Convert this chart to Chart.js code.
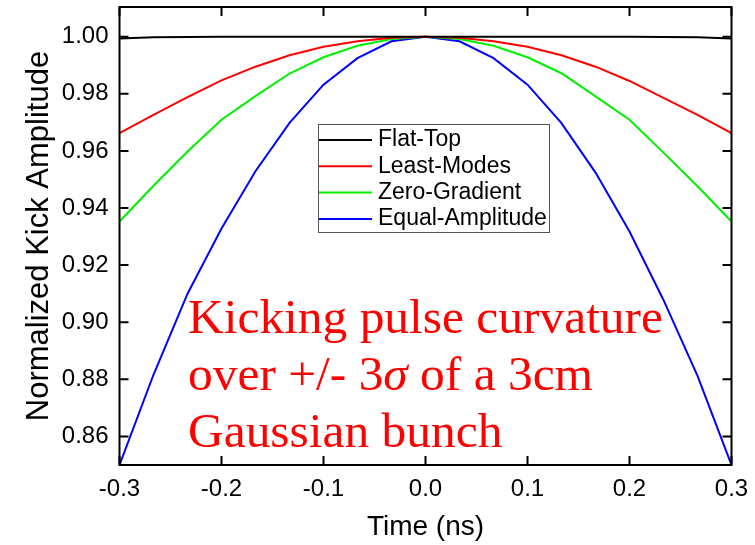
<!DOCTYPE html>
<html>
<head>
<meta charset="utf-8">
<title>Kick amplitude</title>
<script src="https://cdn.jsdelivr.net/npm/chart.js@4.4.1/dist/chart.umd.min.js"></script>
<style>
  body { margin: 0; background: #fff; }
  #wrap { width: 755px; height: 545px; }
</style>
</head>
<body>
<div id="wrap"><canvas id="kick-chart" width="755" height="545"></canvas></div>
<script>
// time points (ns)
const times = [-0.3, -0.2667, -0.2333, -0.2, -0.1667, -0.1333, -0.1, -0.0667, -0.0333, 0,
               0.0333, 0.0667, 0.1, 0.1333, 0.1667, 0.2, 0.2333, 0.2667, 0.3];
// normalized kick amplitude
const flat_top = [0.9994, 0.9998, 0.9999, 1.0, 1.0, 1.0, 1.0, 1.0, 1.0, 1.0,
                  1.0, 1.0, 1.0, 1.0, 1.0, 1.0, 0.9999, 0.9998, 0.9994];
const least_modes = [0.9662, 0.9726, 0.9788, 0.9847, 0.9895, 0.9935, 0.9965, 0.9984, 0.9996, 1.0,
                     0.9996, 0.9984, 0.9965, 0.9935, 0.9895, 0.9845, 0.9786, 0.9726, 0.9662];
const zero_gradient = [0.9353, 0.9478, 0.9598, 0.9709, 0.9792, 0.9871, 0.9928, 0.9968, 0.9992, 1.0,
                       0.9992, 0.9968, 0.9928, 0.9872, 0.9791, 0.9709, 0.9594, 0.9476, 0.9353];
const equal_amplitude = [0.8500, 0.8816, 0.9100, 0.9328, 0.9529, 0.9698, 0.9832, 0.9925, 0.9984, 1.0,
                         0.9984, 0.9925, 0.9832, 0.9697, 0.9524, 0.9318, 0.9078, 0.8812, 0.8500];
// axis ticks
const x_ticks = [-0.3, -0.2, -0.1, 0.0, 0.1, 0.2, 0.3];
const y_ticks = [0.86, 0.88, 0.90, 0.92, 0.94, 0.96, 0.98, 1.00];
// legend names and colours
const names = ['Flat-Top', 'Least-Modes', 'Zero-Gradient', 'Equal-Amplitude'];
const colors = ['#000000', '#ff0000', '#00f000', '#0000ff'];
const note_lines = ['Kicking pulse curvature', 'over +/- 3', 'Gaussian bunch'];

const sans = '"Liberation Sans", Arial, sans-serif';
const serif = '"Liberation Serif", "Times New Roman", serif';
const tick_len = 9;

// turn a value list into x/y points
function to_points(values) {
    return values.map(function(v, i) {
        return { x: times[i], y: v };
    });
}

const series = [flat_top, least_modes, zero_gradient, equal_amplitude];

// draws the box, the inward ticks, the legend and the red note
const frame_plugin = {
    id: 'frame',
    afterDraw(chart) {
        const ctx = chart.ctx;
        const area = chart.chartArea;
        const xs = chart.scales.x;
        const ys = chart.scales.y;
        ctx.save();
        ctx.strokeStyle = '#000';
        ctx.lineWidth = 2;
        ctx.strokeRect(area.left, area.top, area.right - area.left, area.bottom - area.top);
        ctx.beginPath();
        for (const v of x_ticks) {
            const px = xs.getPixelForValue(v);
            ctx.moveTo(px, area.bottom);
            ctx.lineTo(px, area.bottom - tick_len);
            ctx.moveTo(px, area.top);
            ctx.lineTo(px, area.top + tick_len);
        }
        for (const v of y_ticks) {
            const py = ys.getPixelForValue(v);
            ctx.moveTo(area.left, py);
            ctx.lineTo(area.left + tick_len, py);
            ctx.moveTo(area.right, py);
            ctx.lineTo(area.right - tick_len, py);
        }
        ctx.stroke();

        // legend box
        const lx = 318, ly = 124, lw = 231, lh = 108;
        ctx.fillStyle = '#fff';
        ctx.fillRect(lx, ly, lw, lh);
        ctx.strokeStyle = '#555';
        ctx.lineWidth = 1;
        ctx.strokeRect(lx + 0.5, ly + 0.5, lw, lh);
        ctx.font = '23px ' + sans;
        ctx.textBaseline = 'middle';
        ctx.textAlign = 'left';
        chart.data.datasets.forEach(function(ds, i) {
            const row_y = 140 + i * 26.3;
            ctx.strokeStyle = ds.borderColor;
            ctx.lineWidth = 2;
            ctx.beginPath();
            ctx.moveTo(lx + 1, row_y);
            ctx.lineTo(lx + 54, row_y);
            ctx.stroke();
            ctx.fillStyle = '#000';
            ctx.fillText(ds.label, lx + 60, row_y);
        });

        // red note, stretched sideways to the width of the original
        ctx.fillStyle = '#ff0000';
        ctx.textBaseline = 'alphabetic';
        const plain = '49px ' + serif;
        ctx.font = plain;
        const stretch = 475 / ctx.measureText(note_lines[0]).width;
        ctx.translate(188, 0);
        ctx.scale(stretch, 1);
        ctx.fillText(note_lines[0], 0, 333);
        let x = 0;
        ctx.fillText(note_lines[1], x, 390);
        x += ctx.measureText(note_lines[1]).width;
        ctx.font = 'italic ' + plain;
        ctx.fillText('σ', x, 390);
        x += ctx.measureText('σ').width;
        ctx.font = plain;
        ctx.fillText(' of a 3cm', x, 390);
        ctx.fillText(note_lines[2], 0, 447);
        ctx.restore();
    }
};

const config = {
    type: 'line',
    data: {
        datasets: series.map(function(values, i) {
            return {
                label: names[i],
                data: to_points(values),
                borderColor: colors[i],
                backgroundColor: colors[i],
                borderWidth: 2,
                pointRadius: 0,
                tension: 0,
                fill: false
            };
        })
    },
    options: {
        responsive: false,
        animation: false,
        layout: { padding: { left: 0, top: 7, right: 23.5, bottom: 0 } },
        plugins: {
            legend: { display: false },
            tooltip: { enabled: false }
        },
        scales: {
            x: {
                type: 'linear',
                min: -0.3,
                max: 0.3,
                afterFit(scale) {
                    scale.height = 80;
                    scale.paddingLeft = 0;
                    scale.paddingRight = 0;
                },
                afterBuildTicks(scale) { scale.ticks = x_ticks.map(v => ({ value: v })); },
                grid: { display: false, drawTicks: false },
                border: { display: false },
                ticks: {
                    padding: 10,
                    color: '#000',
                    font: { family: sans, size: 24 },
                    callback: v => Number(v).toFixed(1)
                },
                title: {
                    display: true,
                    text: 'Time (ns)',
                    color: '#000',
                    font: { family: sans, size: 28 },
                    padding: { top: 0, bottom: 1 }
                }
            },
            y: {
                type: 'linear',
                min: 0.85,
                max: 1.0104,
                afterFit(scale) {
                    scale.width = 119.5;
                    scale.paddingTop = 0;
                    scale.paddingBottom = 0;
                },
                afterBuildTicks(scale) { scale.ticks = y_ticks.map(v => ({ value: v })); },
                grid: { display: false, drawTicks: false },
                border: { display: false },
                ticks: {
                    padding: 11,
                    color: '#000',
                    font: { family: sans, size: 24 },
                    callback: v => Number(v).toFixed(2)
                },
                title: {
                    display: true,
                    text: 'Normalized Kick Amplitude',
                    color: '#000',
                    font: { family: sans, size: 31 },
                    padding: { top: 21, bottom: 0 }
                }
            }
        }
    },
    plugins: [frame_plugin]
};

const kick_chart = new Chart(document.getElementById('kick-chart'), config);
</script>
</body>
</html>
